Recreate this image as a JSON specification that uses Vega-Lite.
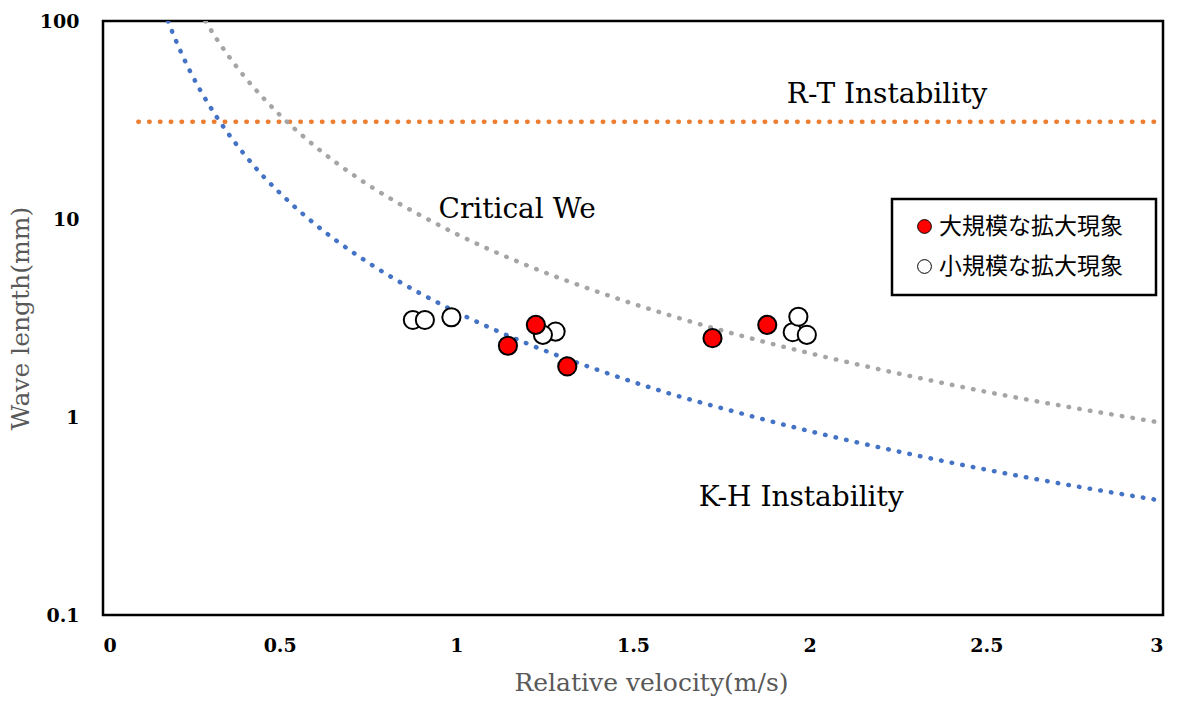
{
  "$schema": "https://vega.github.io/schema/vega-lite/v6.json",
  "width": 1060,
  "height": 594,
  "autosize": {"type": "none"},
  "padding": {"left": 103, "top": 21, "right": 16, "bottom": 89},
  "background": "white",
  "config": {
    "view": {"stroke": "black", "strokeWidth": 2.5},
    "axis": {
      "domain": false,
      "ticks": false,
      "grid": false,
      "labelFont": "DejaVu Serif",
      "labelFontSize": 19,
      "labelFontWeight": "bold",
      "labelColor": "black",
      "titleFont": "DejaVu Serif",
      "titleFontSize": 25,
      "titleFontWeight": "normal",
      "titleColor": "#595959"
    },
    "legend": {
      "strokeColor": "black",
      "strokeWidth": 2.5,
      "fillColor": "white"
    }
  },
  "encoding": {
    "x": {
      "field": "v",
      "type": "quantitative",
      "scale": {"domain": [0, 3], "nice": false, "zero": false},
      "axis": {
        "values": [0, 0.5, 1, 1.5, 2, 2.5, 3],
        "format": "~g",
        "labelPadding": 21,
        "title": "Relative velocity(m/s)",
        "titleX": 548,
        "titleAlign": "center",
        "titlePadding": 15
      }
    },
    "y": {
      "field": "w",
      "type": "quantitative",
      "scale": {"type": "log", "domain": [0.1, 100], "nice": false},
      "axis": {
        "values": [0.1, 1, 10, 100],
        "format": "~g",
        "labelPadding": 24,
        "title": "Wave length(mm)",
        "titlePadding": 6
      }
    }
  },
  "layer": [
    {
      "data": {
        "values": [
          {"series": "R-T", "v": 0.1, "w": 31},
          {"series": "R-T", "v": 3.0, "w": 31},
          {"series": "We", "v": 0.29, "w": 100},
          {"series": "We", "v": 0.32, "w": 82.0},
          {"series": "We", "v": 0.35, "w": 68.6},
          {"series": "We", "v": 0.4, "w": 52.5},
          {"series": "We", "v": 0.45, "w": 41.5},
          {"series": "We", "v": 0.5, "w": 33.6},
          {"series": "We", "v": 0.6, "w": 23.3},
          {"series": "We", "v": 0.7, "w": 17.1},
          {"series": "We", "v": 0.8, "w": 13.1},
          {"series": "We", "v": 0.9, "w": 10.4},
          {"series": "We", "v": 1.0, "w": 8.4},
          {"series": "We", "v": 1.2, "w": 5.83},
          {"series": "We", "v": 1.4, "w": 4.29},
          {"series": "We", "v": 1.6, "w": 3.28},
          {"series": "We", "v": 1.8, "w": 2.59},
          {"series": "We", "v": 2.0, "w": 2.1},
          {"series": "We", "v": 2.25, "w": 1.66},
          {"series": "We", "v": 2.5, "w": 1.34},
          {"series": "We", "v": 2.75, "w": 1.11},
          {"series": "We", "v": 3.0, "w": 0.933},
          {"series": "K-H", "v": 0.184, "w": 100},
          {"series": "K-H", "v": 0.2, "w": 84.75},
          {"series": "K-H", "v": 0.22, "w": 70.0},
          {"series": "K-H", "v": 0.25, "w": 54.2},
          {"series": "K-H", "v": 0.3, "w": 37.7},
          {"series": "K-H", "v": 0.35, "w": 27.7},
          {"series": "K-H", "v": 0.4, "w": 21.2},
          {"series": "K-H", "v": 0.45, "w": 16.7},
          {"series": "K-H", "v": 0.5, "w": 13.56},
          {"series": "K-H", "v": 0.6, "w": 9.42},
          {"series": "K-H", "v": 0.7, "w": 6.92},
          {"series": "K-H", "v": 0.8, "w": 5.3},
          {"series": "K-H", "v": 0.9, "w": 4.19},
          {"series": "K-H", "v": 1.0, "w": 3.39},
          {"series": "K-H", "v": 1.2, "w": 2.35},
          {"series": "K-H", "v": 1.4, "w": 1.73},
          {"series": "K-H", "v": 1.6, "w": 1.32},
          {"series": "K-H", "v": 1.8, "w": 1.05},
          {"series": "K-H", "v": 2.0, "w": 0.848},
          {"series": "K-H", "v": 2.25, "w": 0.67},
          {"series": "K-H", "v": 2.5, "w": 0.542},
          {"series": "K-H", "v": 2.75, "w": 0.448},
          {"series": "K-H", "v": 3.0, "w": 0.377}
        ]
      },
      "mark": {
        "type": "line",
        "interpolate": "monotone",
        "strokeWidth": 4.5,
        "strokeCap": "round",
        "strokeDash": [0.5, 10.3],
        "clip": true
      },
      "encoding": {
        "stroke": {
          "field": "series",
          "type": "nominal",
          "scale": {"domain": ["R-T", "We", "K-H"], "range": ["#ED7D31", "#A5A5A5", "#4472C4"]},
          "legend": null
        }
      }
    },
    {
      "data": {
        "values": [
          {"group": "小規模な拡大現象", "v": 0.877, "w": 3.09},
          {"group": "小規模な拡大現象", "v": 0.911, "w": 3.09},
          {"group": "小規模な拡大現象", "v": 0.986, "w": 3.19},
          {"group": "小規模な拡大現象", "v": 1.281, "w": 2.7},
          {"group": "小規模な拡大現象", "v": 1.245, "w": 2.6},
          {"group": "小規模な拡大現象", "v": 1.952, "w": 2.68},
          {"group": "小規模な拡大現象", "v": 1.968, "w": 3.21},
          {"group": "小規模な拡大現象", "v": 1.992, "w": 2.6},
          {"group": "大規模な拡大現象", "v": 1.146, "w": 2.29},
          {"group": "大規模な拡大現象", "v": 1.225, "w": 2.92},
          {"group": "大規模な拡大現象", "v": 1.314, "w": 1.8},
          {"group": "大規模な拡大現象", "v": 1.725, "w": 2.5},
          {"group": "大規模な拡大現象", "v": 1.88, "w": 2.92}
        ]
      },
      "mark": {
        "type": "point",
        "shape": "circle",
        "filled": true,
        "opacity": 1,
        "size": 330,
        "stroke": "black",
        "strokeWidth": 2
      },
      "encoding": {
        "fill": {
          "field": "group",
          "type": "nominal",
          "scale": {"domain": ["大規模な拡大現象", "小規模な拡大現象"], "range": ["#FF0000", "#FFFFFF"]},
          "legend": {
            "title": " ",
            "titleOrient": "right",
            "titlePadding": 17,
            "titleFontSize": 4,
            "orient": "none",
            "legendX": 789,
            "legendY": 178,
            "padding": 16,
            "rowPadding": 16,
            "symbolOffset": 5,
            "symbolType": "circle",
            "symbolSize": 190,
            "symbolStrokeColor": "black",
            "symbolStrokeWidth": 1,
            "symbolOpacity": 1,
            "labelFont": "Noto Sans CJK JP",
            "labelFontSize": 23,
            "labelColor": "black",
            "labelOffset": 3,
            "labelLimit": 400
          }
        }
      }
    },
    {
      "data": {
        "values": [
          {"label": "R-T Instability", "v": 2.219, "w": 42.3},
          {"label": "Critical We", "v": 1.172, "w": 11.1},
          {"label": "K-H Instability", "v": 1.976, "w": 0.39}
        ]
      },
      "mark": {
        "type": "text",
        "font": "DejaVu Serif",
        "fontSize": 28,
        "color": "black",
        "align": "center",
        "baseline": "middle"
      },
      "encoding": {
        "text": {"field": "label", "type": "nominal"}
      }
    }
  ]
}
